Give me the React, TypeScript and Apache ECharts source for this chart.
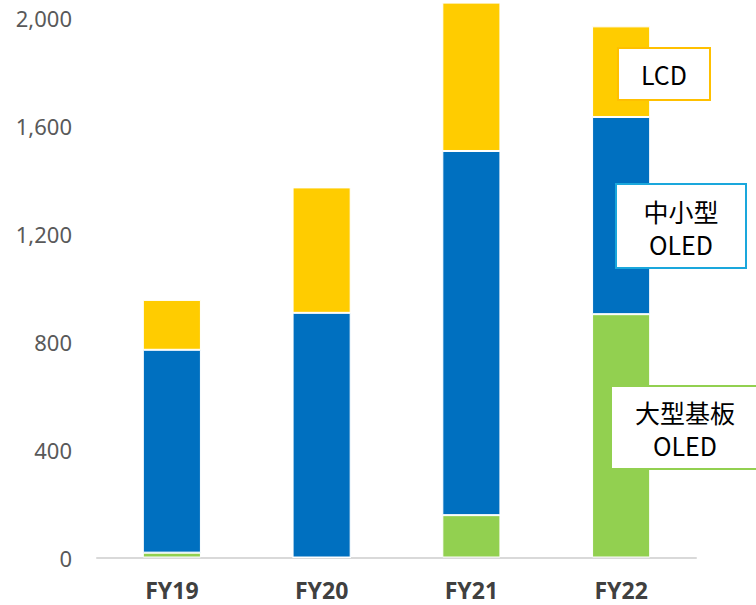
import React, { useEffect, useRef } from "react";
import * as echarts from "echarts";

const categories = ["FY19", "FY20", "FY21", "FY22"];
const largeOled = [18, 0, 157, 902];
const smallMidOled = [752, 907, 1350, 731];
const lcd = [185, 465, 550, 336];
const yTicks = [0, 400, 800, 1200, 1600, 2000];

export default function App() {
  const ref = useRef<HTMLDivElement>(null);
  useEffect(() => {
    const chart = echarts.init(ref.current!, null, { renderer: "svg" });
    const font = "'Noto Sans', 'Noto Sans CJK JP', sans-serif";
    const jp = "'Noto Sans CJK JP', 'Noto Sans', sans-serif";
    const barCommon = {
      type: "bar" as const,
      stack: "total",
      barWidth: "38.8%",
      clip: false,
      itemStyle: { borderColor: "#ffffff", borderWidth: 1 },
    };
    const txt = (s: string, x: number, y: number) => ({
      type: "text",
      x,
      y,
      style: {
        text: s,
        fontSize: 25,
        fontFamily: jp,
        lineHeight: 26,
        fill: "#000000",
        align: "center",
        verticalAlign: "middle",
      },
      z: 101,
    });
    chart.setOption({
      animation: false,
      grid: { left: 97, right: 60, top: 18, bottom: 47.5, containLabel: false },
      xAxis: {
        type: "category",
        data: categories,
        axisLine: { show: true, lineStyle: { color: "#D9D9D9", width: 2 } },
        axisTick: { show: false },
        axisLabel: {
          color: "#404040",
          fontSize: 23,
          fontWeight: "bold",
          fontFamily: font,
          margin: 21,
        },
      },
      yAxis: {
        type: "value",
        min: yTicks[0],
        max: yTicks[yTicks.length - 1],
        interval: 400,
        splitLine: { show: false },
        axisLine: { show: false },
        axisTick: { show: false },
        axisLabel: {
          color: "#595959",
          fontSize: 22,
          fontFamily: font,
          margin: 25,
          formatter: (v: number) => v.toLocaleString("en-US"),
        },
      },
      series: [
        { ...barCommon, name: "大型基板OLED", data: largeOled, itemStyle: { ...barCommon.itemStyle, color: "#92D050" } },
        { ...barCommon, name: "中小型OLED", data: smallMidOled, itemStyle: { ...barCommon.itemStyle, color: "#0070C0" } },
        { ...barCommon, name: "LCD", data: lcd, itemStyle: { ...barCommon.itemStyle, color: "#FFCC00" } },
      ],
      graphic: [
        {
          type: "rect",
          shape: { x: 618, y: 48, width: 92, height: 52 },
          style: { fill: "#ffffff", stroke: "#FFC000", lineWidth: 2 },
          z: 100,
        },
        txt("LCD", 664, 74),
        {
          type: "rect",
          shape: { x: 616, y: 184, width: 130, height: 84 },
          style: { fill: "#ffffff", stroke: "#1AA7DC", lineWidth: 2 },
          z: 100,
        },
        txt("中小型", 681, 211),
        txt("OLED", 681, 244),
        {
          type: "rect",
          shape: { x: 611, y: 386, width: 160, height: 83 },
          style: { fill: "#ffffff", stroke: "#92D050", lineWidth: 2 },
          z: 100,
        },
        txt("大型基板", 685, 412),
        txt("OLED", 685, 445),
      ],
    });
    return () => chart.dispose();
  }, []);
  return <div ref={ref} style={{ width: 756, height: 605, position: "absolute", left: 0, top: 0 }} />;
}
